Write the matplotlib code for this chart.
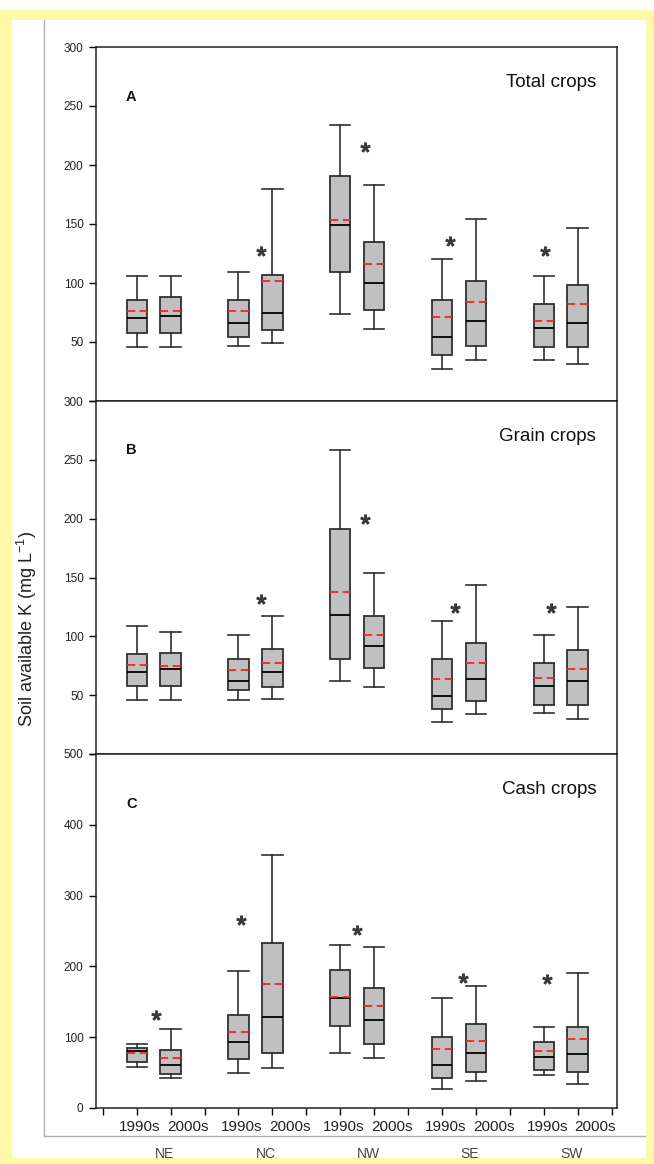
import matplotlib
matplotlib.use("Agg")
import matplotlib.pyplot as plt
from matplotlib.patches import Rectangle
from matplotlib.lines import Line2D

plt.rcParams["font.family"] = ["Liberation Sans", "DejaVu Sans"]
plt.rcParams["mathtext.default"] = "regular"

# Order of boxes: NE 1990s, NE 2000s, NC 1990s, NC 2000s, NW ..., SE ..., SW ...
regions = ["NE", "NC", "NW", "SE", "SW"]
decades = ["1990s", "2000s"]
positions = [1, 2, 4, 5, 7, 8, 10, 11, 13, 14]

# A - Total crops
total_whislo = [46, 46, 47, 49, 74, 61, 27, 35, 35, 31]
total_q1 = [58, 58, 54, 60, 109, 77, 39, 47, 46, 46]
total_med = [70, 72, 66, 75, 149, 100, 54, 68, 62, 66]
total_mean = [76, 76, 76, 102, 153, 116, 71, 84, 68, 82]
total_q3 = [86, 88, 86, 107, 191, 135, 86, 102, 82, 98]
total_whishi = [106, 106, 109, 180, 234, 183, 120, 154, 106, 147]
total_star_x = [4.65, 7.73, 10.24, 13.04]
total_star_y = [127, 215, 136, 127]

# B - Grain crops
grain_whislo = [46, 46, 46, 47, 62, 57, 27, 34, 35, 30]
grain_q1 = [58, 58, 54, 57, 81, 73, 38, 45, 42, 42]
grain_med = [70, 72, 62, 70, 118, 92, 49, 64, 58, 62]
grain_mean = [76, 75, 71, 77, 138, 101, 64, 77, 65, 72]
grain_q3 = [85, 86, 81, 89, 191, 117, 81, 94, 77, 88]
grain_whishi = [109, 104, 101, 117, 258, 154, 113, 144, 101, 125]
grain_star_x = [4.65, 7.73, 10.38, 13.2]
grain_star_y = [132, 200, 124, 124]

# C - Cash crops
cash_whislo = [58, 42, 49, 57, 78, 71, 27, 38, 46, 34]
cash_q1 = [65, 48, 69, 78, 116, 91, 42, 51, 53, 51]
cash_med = [81, 61, 93, 129, 155, 125, 61, 78, 72, 76]
cash_mean = [78, 70, 107, 175, 157, 144, 84, 95, 80, 98]
cash_q3 = [85, 82, 132, 233, 195, 170, 100, 119, 93, 115]
cash_whishi = [91, 112, 193, 358, 230, 228, 155, 172, 115, 191]
cash_star_x = [1.58, 4.07, 7.48, 10.63, 13.09]
cash_star_y = [132, 265, 251, 183, 182]

panels = [
    ("A", "Total crops", 300, 50,
     total_whislo, total_q1, total_med, total_mean, total_q3, total_whishi,
     total_star_x, total_star_y),
    ("B", "Grain crops", 300, 50,
     grain_whislo, grain_q1, grain_med, grain_mean, grain_q3, grain_whishi,
     grain_star_x, grain_star_y),
    ("C", "Cash crops", 500, 100,
     cash_whislo, cash_q1, cash_med, cash_mean, cash_q3, cash_whishi,
     cash_star_x, cash_star_y),
]

W, H = 654, 1164
fig = plt.figure(figsize=(W / 100, H / 100), dpi=100)
fig.patch.set_facecolor("white")

YELLOW = "#fff8a6"
EDGE = "#303030"

# panel rectangles in pixels: (top, bottom)
left_px, right_px = 96, 617
panel_px = [(47, 401), (401, 754), (754, 1108)]

axes = []
for (top, bot) in panel_px:
    ax = fig.add_axes([left_px / W, 1 - bot / H, (right_px - left_px) / W, (bot - top) / H])
    axes.append(ax)

for i, (ax, p) in enumerate(zip(axes, panels)):
    letter, title, ymax, ystep, lo, q1, med, mean, q3, hi, sx, sy = p
    stats = []
    for k in range(len(positions)):
        stats.append(dict(whislo=lo[k], q1=q1[k], med=med[k], mean=mean[k],
                          q3=q3[k], whishi=hi[k], fliers=[]))
    ax.bxp(stats, positions=positions, widths=0.6, capwidths=0.6,
           patch_artist=True, showmeans=True, meanline=True,
           boxprops=dict(facecolor="#c0c0c0", edgecolor=EDGE, linewidth=1.3),
           medianprops=dict(color="black", linewidth=1.3),
           meanprops=dict(color="#ff2020", linewidth=1.3, linestyle=(0, (4.5, 2.5))),
           whiskerprops=dict(color=EDGE, linewidth=1.2),
           capprops=dict(color=EDGE, linewidth=1.2),
           manage_ticks=False)
    ax.plot(sx, sy, linestyle="none", marker="$*$", markersize=6.5,
            color="#3a3a3a")

    ax.set_xlim(-0.2, 15.16)
    ax.set_ylim(0, ymax)
    ticks = list(range(0, ymax + 1, ystep))
    ax.set_yticks(ticks)
    # the lower panels' top label sits on this panel's zero, so only the
    # bottom panel shows its own 0
    ax.set_yticklabels(["" if (t == 0 and i < 2) else str(t) for t in ticks])
    ax.tick_params(axis="y", direction="out", length=5, width=1, pad=4,
                   labelsize=8.5, labelcolor="#222222")
    for s in ax.spines.values():
        s.set_color("#222222")
        s.set_linewidth(1.1)

    if i == 1:
        ax.set_xticks([])
    else:
        ax.set_xticks(range(0, 16))
        ax.set_xticklabels([])
        ax.tick_params(axis="x", direction="out", length=5, width=1)

    ax.text(0.068, 0.86, letter, transform=ax.transAxes, fontsize=10.5,
            fontweight="bold", ha="center", va="center", color="#111111")
    ax.text(0.96, 0.90, title, transform=ax.transAxes, fontsize=13.5,
            ha="right", va="center", color="#111111")

# decade labels and region names below the bottom panel
axc = axes[-1]
trans = axc.get_xaxis_transform()
for j, pos in enumerate(positions):
    off = 0.1 if j % 2 == 0 else 0.52
    axc.text(pos + off, -0.053, decades[j % 2], transform=trans, fontsize=11,
             ha="center", va="center", color="#222222")
for j, reg in enumerate(regions):
    axc.text(positions[2 * j + 1] - 0.18, -0.13, reg, transform=trans,
             fontsize=10, ha="center", va="center", color="#444444")

fig.text(27 / W, 1 - 629 / H, "Soil available K (mg L$^{-1}$)", rotation=90,
         fontsize=13, ha="center", va="center", color="#222222")

# grey frame lines
fig.add_artist(Line2D([44 / W, 44 / W], [1 - 20 / H, 1 - 1136 / H], color="#b0b0b0", lw=1))
fig.add_artist(Line2D([44 / W, 646 / W], [1 - 1136 / H, 1 - 1136 / H], color="#b0b0b0", lw=1))

# yellow border (drawn on top so it clips the region labels)
strips = [
    (0, 10, 12, H - 10),          # left
    (646, 10, W - 646, H - 10),   # right
    (0, 10, W, 10),               # top
    (0, 1158, W, H - 1158),       # bottom
]
for (x0, y0, w, h) in strips:
    fig.add_artist(Rectangle((x0 / W, 1 - (y0 + h) / H), w / W, h / H,
                             transform=fig.transFigure, facecolor=YELLOW,
                             edgecolor="none", zorder=10))

fig.savefig("out.png", dpi=100)
